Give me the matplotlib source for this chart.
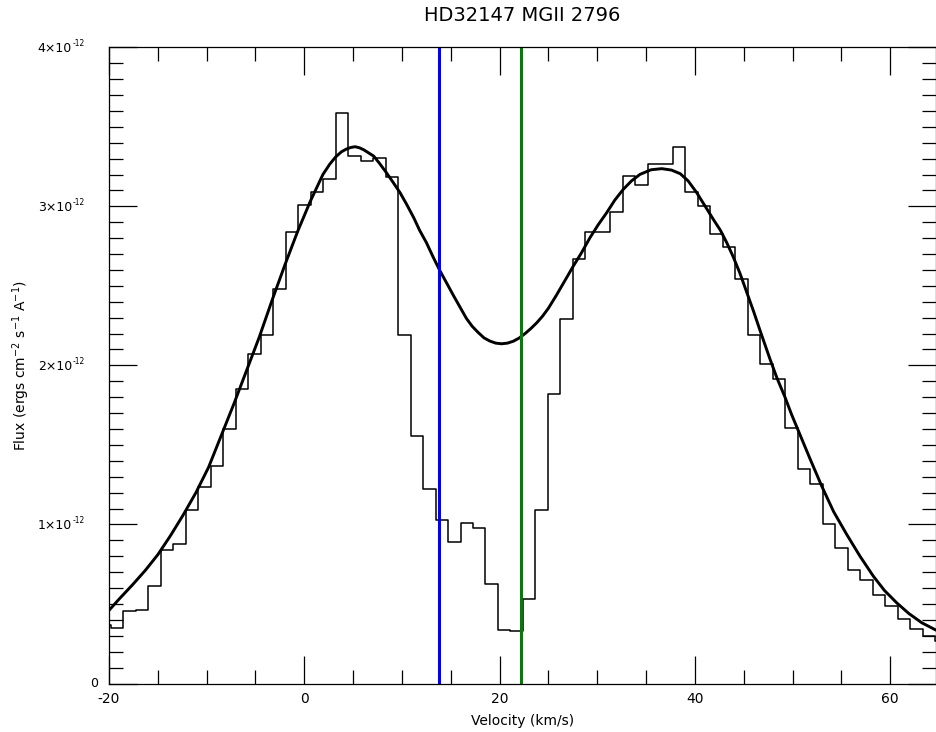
import numpy as np
import matplotlib
matplotlib.use("Agg")
import matplotlib.pyplot as plt
from matplotlib.ticker import MultipleLocator, FixedLocator, FixedFormatter, NullFormatter

# ---- data (flux in units of 1e-12 ergs cm^-2 s^-1 A^-1) ----
vel_bins = [-20.45, -19.18, -17.90, -16.62, -15.34, -14.06, -12.78, -11.50, -10.22, -8.94,
            -7.67, -6.39, -5.11, -3.83, -2.55, -1.27, 0.01, 1.29, 2.57, 3.85,
            5.12, 6.40, 7.68, 8.96, 10.24, 11.52, 12.80, 14.08, 15.36, 16.63,
            17.91, 19.19, 20.47, 21.75, 23.03, 24.31, 25.59, 26.87, 28.14, 29.42,
            30.70, 31.98, 33.26, 34.54, 35.82, 37.10, 38.38, 39.65, 40.93, 42.21,
            43.49, 44.77, 46.05, 47.33, 48.61, 49.89, 51.17, 52.44, 53.72, 55.00,
            56.28, 57.56, 58.84, 60.12, 61.40, 62.68, 63.95, 65.23]
flux_bins = [0.37, 0.35, 0.455, 0.465, 0.612, 0.838, 0.874, 1.090, 1.235, 1.367,
             1.597, 1.849, 2.07, 2.19, 2.48, 2.84, 3.008, 3.09, 3.17, 3.589,
             3.316, 3.285, 3.306, 3.187, 2.189, 1.555, 1.220, 1.031, 0.891, 1.008,
             0.975, 0.623, 0.337, 0.327, 0.533, 1.090, 1.818, 2.294, 2.671, 2.84,
             2.84, 2.965, 3.19, 3.134, 3.264, 3.264, 3.375, 3.09, 3.002, 2.824,
             2.746, 2.541, 2.189, 2.006, 1.912, 1.604, 1.346, 1.252, 1.004, 0.849,
             0.713, 0.650, 0.556, 0.486, 0.407, 0.340, 0.298, 0.27]

vel_fit = [-20.0, -18.9, -17.6, -16.3, -15.0, -13.7, -12.4, -11.1, -9.8, -8.5,
           -7.2, -5.9, -4.6, -3.3, -2.0, -0.7, 0.6, 1.9, 2.6, 3.2,
           3.8, 4.3, 4.75, 5.2, 5.65, 6.1, 7.1, 7.7, 8.4, 9.1,
           9.8, 10.5, 11.2, 11.8, 12.5, 13.2, 13.9, 14.6, 15.3, 16.0,
           16.6, 17.2, 17.8, 18.4, 19.0, 19.6, 20.2, 20.8, 21.4, 22.0,
           22.6, 23.2, 23.8, 24.4, 25.0, 25.8, 26.7, 27.5, 28.4, 29.25,
           30.1, 30.96, 31.8, 32.66, 33.5, 34.37, 35.5, 36.6, 37.6, 38.5,
           39.3, 40.18, 41.0, 41.88, 42.6, 43.25, 43.9, 44.6, 45.3, 46.0,
           46.66, 47.68, 48.4, 49.22, 49.9, 50.58, 51.8, 52.98, 54.2, 55.54,
           56.9, 58.26, 59.4, 60.66, 61.9, 63.22, 64.7]
flux_fit = [0.46, 0.535, 0.62, 0.71, 0.81, 0.93, 1.06, 1.20, 1.36, 1.56,
            1.76, 1.97, 2.18, 2.41, 2.63, 2.84, 3.03, 3.20, 3.265, 3.31,
            3.343, 3.36, 3.37, 3.375, 3.368, 3.355, 3.316, 3.27, 3.212, 3.15,
            3.086, 3.01, 2.929, 2.85, 2.772, 2.68, 2.593, 2.515, 2.436, 2.36,
            2.295, 2.245, 2.207, 2.173, 2.153, 2.14, 2.136, 2.14, 2.152, 2.172,
            2.20, 2.232, 2.268, 2.31, 2.36, 2.44, 2.535, 2.62, 2.71, 2.803,
            2.885, 2.96, 3.04, 3.107, 3.16, 3.201, 3.23, 3.237, 3.228, 3.205,
            3.16, 3.086, 3.005, 2.918, 2.85, 2.772, 2.685, 2.58, 2.46, 2.34,
            2.22, 2.04, 1.92, 1.80, 1.69, 1.59, 1.41, 1.241, 1.08, 0.937,
            0.80, 0.675, 0.585, 0.507, 0.44, 0.382, 0.335]

blue_line_v = 13.82
green_line_v = 22.16

x_ticks = [-20, 0, 20, 40, 60]
x_ticklabels = ["-20", "0", "20", "40", "60"]
y_ticks = [0, 1e-12, 2e-12, 3e-12, 4e-12]
y_tick_mantissa = ["0", "1×10", "2×10", "3×10", "4×10"]
y_tick_exponent = ["", "-12", "-12", "-12", "-12"]

title = "HD32147 MGII 2796"
xlabel = "Velocity (km/s)"
ylabel = r"Flux (ergs cm$^{-2}$ s$^{-1}$ A$^{-1}$)"

scale = 1e-12
plt.rcParams['mathtext.fontset'] = 'dejavusans'

fig = plt.figure(figsize=(9.36, 7.32), dpi=100)
W, H = 936, 732
ax = fig.add_axes([109 / W, (H - 683.5) / H, (936 - 109) / W, (683.5 - 47.3) / H])

ax.step(vel_bins, np.array(flux_bins) * scale, where='mid', color='black', lw=1.1)
ax.plot(vel_fit, np.array(flux_fit) * scale, color='black', lw=2.1,
        solid_capstyle='round', solid_joinstyle='round')
ax.axvline(blue_line_v, color='#0000ff', lw=2.2)
ax.axvline(green_line_v, color='#008000', lw=2.2)

ax.set_xlim(-20, 64.68)
ax.set_ylim(0, 4e-12)

ax.xaxis.set_major_locator(FixedLocator(x_ticks))
ax.xaxis.set_major_formatter(FixedFormatter(x_ticklabels))
ax.xaxis.set_minor_locator(MultipleLocator(5))
ax.yaxis.set_major_locator(FixedLocator(y_ticks))
ax.yaxis.set_major_formatter(NullFormatter())
ax.yaxis.set_minor_locator(MultipleLocator(1e-13))

ax.tick_params(which='both', direction='in', top=True, right=True, width=0.9, color='black')
ax.tick_params(which='major', length=20)
ax.tick_params(which='minor', length=10)
ax.tick_params(axis='x', which='major', labelsize=10, pad=6)

# y tick labels in the "n×10^-12" style (mantissa + small raised exponent)
ytr = ax.get_yaxis_transform()
for yv, man, ex in zip(y_ticks, y_tick_mantissa, y_tick_exponent):
    if ex:
        ax.annotate(man, xy=(0, yv), xycoords=ytr, xytext=(-37, -1),
                    textcoords='offset pixels', ha='right', va='center',
                    fontsize=9, annotation_clip=False)
        ax.annotate(ex, xy=(0, yv), xycoords=ytr, xytext=(-36, 4),
                    textcoords='offset pixels', ha='left', va='center',
                    fontsize=5.5, annotation_clip=False)
    else:
        ax.annotate(man, xy=(0, yv), xycoords=ytr, xytext=(-11, 0),
                    textcoords='offset pixels', ha='right', va='center',
                    fontsize=9, annotation_clip=False)

for s in ax.spines.values():
    s.set_linewidth(0.9)

ax.set_title(title, fontsize=14, pad=19)
ax.set_xlabel(xlabel, fontsize=10, labelpad=6)
ax.set_ylabel(ylabel, fontsize=10)
ax.yaxis.set_label_coords(-0.093, 0.5)

fig.savefig("out.png", dpi=100)
